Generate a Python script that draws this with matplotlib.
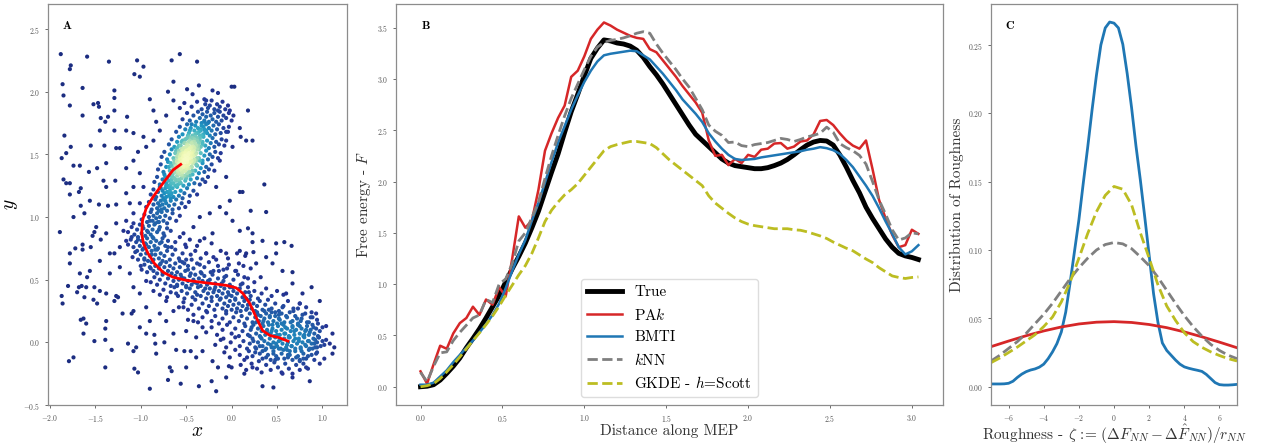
import numpy as np
import matplotlib
matplotlib.use("Agg")
import matplotlib.pyplot as plt

plt.rcParams['font.family'] = 'cmr10'
plt.rcParams['mathtext.fontset'] = 'cm'
plt.rcParams['axes.formatter.use_mathtext'] = True

# ---------------- panel A : samples (x, y in hundredths) ----------------
sparse_pts = [
    (-188, 230), (-159, 228), (-177, 221), (-178, 218), (-186, 206), (-185, 197), (-164, 203), (-178, 189),
    (-152, 190), (-147, 191), (-146, 188), (-129, 201), (-129, 195), (-135, 224), (-104, 225), (-97, 220),
    (-107, 214), (-101, 212), (-66, 225), (-57, 230), (-38, 224), (-64, 208), (-70, 200), (-36, 205),
    (-49, 202), (-21, 201), (-15, 199), (0, 204), (3, 204), (-43, 198), (-90, 194), (-129, 185),
    (-164, 181), (-144, 179), (-136, 180), (-139, 176), (-115, 180), (-145, 169), (-129, 169), (-116, 169),
    (-184, 165), (-177, 156), (-182, 151), (-187, 147), (-174, 141), (-167, 141), (-148, 139), (-138, 143),
    (-155, 157), (-140, 157), (-127, 155), (-123, 155), (-185, 130), (-182, 127), (-178, 127), (-178, 118),
    (-168, 120), (-166, 123), (-157, 136), (-141, 129), (-128, 129), (-138, 124), (-174, 100), (-162, 103),
    (-166, 109), (-156, 113), (-146, 110), (-136, 109), (-127, 110), (-189, 88),
    (9, 120), (12, 120), (36, 126), (38, 104), (21, 105), (16, 161), (23, 161), (10, 164), (1, 156),
    (-4, 168), (18, 185), (-2, 185), (9, 171), (-13, 145), (-6, 132), (-17, 124), (-2, 113), (-6, 103),
    (1, 97), (9, 89), (23, 87), (18, 91), (-13, 108), (-24, 103), (-35, 100), (-42, 92), (-53, 87),
    (-21, 87), (23, 80), (34, 81), (49, 79), (58, 80), (66, 77), (45, 63), (56, 57), (67, 56), (88, 44),
    (78, 39), (93, 23), (104, 13), (111, 7), (113, -4), (102, -13), (86, -31), (67, -28), (56, -25),
    (46, -36), (34, -35), (23, -20), (14, -25), (0, -20), (-6, -28), (-15, -20), (-17, -39), (-22, -31),
    (-36, -35), (-50, -20), (-56, -33), (-70, -30), (-66, -23), (-68, -20), (-90, -37), (-103, -24),
    (-107, -21), (-108, -7), (-114, -1), (-94, 7), (-85, 6), (-84, -1), (-74, 0), (-61, -6), (-52, -7),
    (-45, -7), (-105, -4), (-110, 23), (-108, 25), (-120, 23), (-127, 37), (-125, 36), (-129, 33),
    (-138, 39), (-145, 41), (-148, 31), (-152, 34), (-170, 40), (-162, 36), (-180, 45), (-168, 44),
    (-165, 45), (-160, 44), (-159, 52), (-151, 44), (-187, 37), (-186, 31), (-163, 19), (-166, 18),
    (-160, 15), (-138, 17), (-139, 11), (-132, -6), (-139, 2), (-151, 1), (-163, 7), (-179, -15),
    (-174, -12), (-139, -20), (-178, 71), (-178, 63), (-172, 75), (-164, 78), (-164, 74), (-155, 76),
    (-153, 85), (-149, 92), (-151, 88), (-144, 82), (-138, 87), (-134, 71), (-145, 65), (-156, 57),
    (-167, 55), (-134, 55), (-123, 60), (-129, 71), (-123, 76), (-116, 81), (-119, 89), (-127, 95),
    (-116, 97), (-108, 103), (-112, 111), (-101, 111), (-116, 119), (-108, 124), (-97, 124), (-101, 135),
    (-116, 139), (-108, 145), (-103, 152), (-94, 156), (-86, 161), (-97, 164), (-108, 167), (-79, 169),
    (-83, 176), (-72, 181), (-86, 185), (-57, 187), (-64, 193), (-52, 191), (-28, 193),
    (9, 73), (-6, 71), (-35, 81), (-50, 76), (-28, 71), (-57, 65), (49, 71), (38, 68), (27, 63), (16, 71),
    (67, 47), (60, 39), (97, 33), (75, 31), (108, -1), (111, -9), (97, -17), (82, -20), (75, -15),
    (-101, 12), (-90, 17), (-79, 23), (-72, 17), (-64, 25), (-94, 28), (-101, 39), (-86, 41), (-108, 44),
    (-94, 49), (-112, 55), (-83, -9), (-64, 7), (-50, 9), (-39, 4), (-32, -7), (-21, -15), (-39, -12),
    (-53, 28), (-42, 17), (-32, 12), (-61, 39), (-72, 33), (-50, 44),
]

upper_pts = [
    (-44, 188), (-38, 192), (-33, 186), (-29, 190), (-26, 187), (-22, 193), (-19, 186), (-16, 190),
    (-13, 188), (-10, 192), (-7, 186), (-4, 189), (-30, 194), (-24, 189), (-15, 185),
    (-54, 178), (-49, 183), (-46, 177), (-42, 181), (-39, 176), (-37, 184), (-35, 179), (-32, 182),
    (-30, 177), (-28, 180), (-27, 184), (-25, 176), (-23, 181), (-21, 178), (-19, 183), (-17, 176),
    (-15, 180), (-13, 184), (-11, 177), (-9, 181), (-6, 179), (-3, 183), (0, 177), (2, 181), (-33, 175),
    (-61, 168), (-57, 172), (-54, 166), (-51, 170), (-49, 174), (-47, 167), (-45, 171), (-43, 165),
    (-41, 169), (-40, 173), (-38, 167), (-37, 171), (-35, 165), (-34, 169), (-33, 173), (-31, 166),
    (-30, 170), (-28, 174), (-27, 167), (-25, 171), (-24, 165), (-22, 169), (-20, 173), (-18, 166),
    (-16, 170), (-14, 174), (-12, 167), (-9, 171), (-6, 168), (-3, 172), (-44, 174), (-29, 168),
    (-69, 158), (-66, 162), (-63, 156), (-60, 160), (-58, 164), (-56, 157), (-54, 161), (-52, 155),
    (-51, 159), (-49, 163), (-48, 157), (-46, 161), (-45, 155), (-44, 159), (-43, 163), (-42, 156),
    (-41, 160), (-40, 164), (-39, 157), (-38, 161), (-37, 155), (-36, 159), (-35, 163), (-34, 156),
    (-32, 160), (-31, 164), (-29, 157), (-27, 161), (-25, 155), (-23, 159), (-21, 163), (-19, 156),
    (-17, 160), (-14, 158), (-11, 162), (-8, 157), (-6, 161), (-47, 164),
    (-77, 148), (-74, 152), (-71, 146), (-68, 150), (-66, 154), (-64, 147), (-62, 151), (-60, 145),
    (-59, 149), (-58, 153), (-57, 146), (-56, 150), (-55, 154), (-54, 147), (-53, 151), (-52, 145),
    (-51, 149), (-50, 153), (-49, 146), (-48, 150), (-47, 154), (-46, 147), (-45, 151), (-44, 145),
    (-43, 149), (-42, 153), (-41, 146), (-40, 150), (-38, 154), (-36, 147), (-34, 151), (-32, 145),
    (-30, 149), (-28, 153), (-26, 146), (-24, 150), (-21, 148), (-18, 152), (-15, 147), (-12, 151),
    (-61, 153), (-39, 145),
    (-81, 138), (-78, 142), (-75, 136), (-72, 140), (-70, 144), (-68, 137), (-66, 141), (-65, 135),
    (-64, 139), (-63, 143), (-62, 136), (-61, 140), (-60, 144), (-59, 137), (-58, 141), (-57, 135),
    (-56, 139), (-55, 143), (-54, 136), (-53, 140), (-52, 144), (-51, 137), (-50, 141), (-49, 135),
    (-48, 139), (-47, 143), (-46, 136), (-44, 140), (-42, 144), (-40, 137), (-38, 141), (-36, 135),
    (-34, 139), (-32, 143), (-30, 136), (-28, 140), (-25, 138), (-22, 142), (-19, 137), (-67, 143),
    (-85, 128), (-82, 132), (-79, 126), (-76, 130), (-74, 134), (-72, 127), (-71, 131), (-70, 125),
    (-69, 129), (-68, 133), (-67, 126), (-66, 130), (-65, 134), (-64, 127), (-63, 131), (-62, 125),
    (-61, 129), (-60, 133), (-59, 126), (-58, 130), (-57, 134), (-56, 127), (-55, 131), (-53, 125),
    (-51, 129), (-49, 133), (-47, 126), (-45, 130), (-43, 134), (-41, 127), (-38, 131), (-35, 126),
    (-32, 130), (-29, 128), (-26, 132), (-73, 132),
    (-89, 118), (-86, 122), (-83, 116), (-81, 120), (-79, 124), (-77, 117), (-76, 121), (-75, 115),
    (-74, 119), (-73, 123), (-72, 116), (-71, 120), (-70, 124), (-69, 117), (-68, 121), (-67, 115),
    (-66, 119), (-65, 123), (-64, 116), (-62, 120), (-60, 124), (-58, 117), (-56, 121), (-54, 115),
    (-52, 119), (-49, 123), (-46, 117), (-42, 121), (-38, 118), (-78, 123),
    (-94, 108), (-91, 112), (-88, 106), (-86, 110), (-84, 114), (-82, 107), (-81, 111), (-80, 105),
    (-79, 109), (-78, 113), (-77, 106), (-76, 110), (-75, 114), (-74, 107), (-72, 111), (-71, 105),
    (-69, 109), (-67, 113), (-65, 106), (-63, 110), (-61, 114), (-58, 107), (-55, 111), (-51, 108),
    (-47, 112),
    (-99, 98), (-96, 102), (-93, 96), (-91, 100), (-89, 104), (-87, 97), (-86, 101), (-84, 95),
    (-83, 99), (-82, 103), (-80, 96), (-79, 100), (-77, 104), (-75, 97), (-73, 101), (-71, 95),
    (-68, 99), (-65, 103), (-61, 97), (-57, 101),
]

upper_core_pts = [
    (-52, 146), (-48, 142), (-55, 150), (-45, 148), (-50, 139), (-57, 143), (-43, 152), (-53, 155),
    (-47, 136), (-60, 148), (-41, 145), (-49, 158), (-56, 138), (-44, 140), (-51, 151), (-58, 157),
    (-39, 151), (-46, 155), (-54, 133), (-61, 141), (-42, 160), (-48, 147), (-53, 141), (-37, 157),
    (-59, 135), (-45, 163), (-50, 131), (-63, 145), (-40, 166), (-55, 160), (-47, 151), (-52, 137),
    (-44, 156), (-58, 151), (-35, 161), (-62, 130), (-49, 144), (-38, 147), (-56, 146), (-43, 137),
    (-64, 136), (-51, 162), (-46, 133), (-36, 168), (-60, 155), (-41, 155), (-54, 144), (-48, 165),
    (-57, 128), (-39, 142), (-66, 127), (-33, 165), (-50, 156), (-45, 144), (-53, 149), (-42, 149),
    (-47, 160), (-59, 139), (-55, 134), (-38, 163), (-65, 132), (-34, 170), (-52, 159), (-44, 151),
    (-61, 151), (-40, 158), (-49, 140), (-57, 148), (-46, 169), (-68, 124), (-31, 172), (-50, 146),
    (-43, 143), (-54, 153), (-58, 143), (-36, 154), (-63, 138), (-47, 139), (-41, 162), (-52, 133),
    (-70, 120), (-67, 118), (-72, 125), (-30, 176), (-28, 169), (-26, 175), (-73, 113), (-32, 158),
    (-69, 140), (-35, 145),
]

lower_pts = [
    (-114, 88), (-110, 92), (-107, 86), (-104, 90), (-101, 94), (-99, 87), (-97, 91), (-95, 85),
    (-93, 89), (-91, 93), (-89, 86), (-87, 90), (-85, 94), (-82, 88), (-79, 92), (-75, 87), (-71, 91),
    (-67, 89),
    (-114, 78), (-111, 82), (-108, 76), (-105, 80), (-103, 84), (-101, 77), (-99, 81), (-97, 75),
    (-95, 79), (-93, 83), (-91, 76), (-89, 80), (-87, 84), (-85, 77), (-83, 81), (-81, 75), (-79, 79),
    (-76, 83), (-73, 77), (-70, 81), (-66, 76), (-62, 80), (-57, 84), (-51, 78), (-46, 82), (-38, 77),
    (-30, 83), (-22, 79),
    (-109, 68), (-106, 72), (-103, 66), (-100, 70), (-98, 74), (-96, 67), (-94, 71), (-92, 65),
    (-90, 69), (-88, 73), (-86, 66), (-84, 70), (-82, 74), (-80, 67), (-78, 71), (-76, 65), (-74, 69),
    (-71, 73), (-68, 66), (-65, 70), (-62, 74), (-58, 67), (-54, 71), (-50, 66), (-45, 70), (-40, 73),
    (-34, 67), (-28, 71), (-20, 68), (-12, 73), (-4, 67), (6, 71), (15, 69), (24, 72),
    (-99, 58), (-96, 62), (-93, 56), (-90, 60), (-88, 64), (-86, 57), (-84, 61), (-82, 55), (-80, 59),
    (-78, 63), (-76, 56), (-74, 60), (-72, 64), (-70, 57), (-68, 61), (-66, 55), (-64, 59), (-62, 63),
    (-60, 56), (-57, 60), (-54, 64), (-51, 57), (-48, 61), (-45, 55), (-42, 59), (-38, 63), (-34, 56),
    (-30, 60), (-25, 64), (-20, 57), (-15, 61), (-9, 58), (-3, 62), (5, 57), (13, 61), (21, 59),
    (-89, 48), (-85, 52), (-82, 46), (-79, 50), (-76, 54), (-73, 47), (-70, 51), (-67, 45), (-64, 49),
    (-62, 53), (-60, 46), (-58, 50), (-56, 54), (-54, 47), (-52, 51), (-50, 45), (-48, 49), (-46, 53),
    (-44, 46), (-42, 50), (-40, 54), (-38, 47), (-36, 51), (-34, 45), (-32, 49), (-30, 53), (-27, 46),
    (-24, 50), (-21, 54), (-18, 47), (-15, 51), (-12, 45), (-9, 49), (-6, 53), (-2, 46), (2, 50),
    (7, 54), (12, 47), (18, 51), (25, 48), (32, 52),
    (-79, 38), (-75, 42), (-71, 36), (-67, 40), (-63, 44), (-59, 37), (-55, 41), (-52, 35), (-49, 39),
    (-46, 43), (-43, 36), (-40, 40), (-37, 44), (-34, 37), (-31, 41), (-28, 35), (-26, 39), (-24, 43),
    (-22, 36), (-20, 40), (-18, 44), (-16, 37), (-14, 41), (-12, 35), (-10, 39), (-8, 43), (-6, 36),
    (-4, 40), (-2, 44), (0, 37), (2, 41), (4, 35), (6, 39), (9, 43), (12, 36), (15, 40), (18, 44),
    (21, 37), (25, 41), (29, 35), (33, 39), (38, 43), (44, 37), (50, 41), (57, 38),
    (-58, 28), (-53, 32), (-48, 26), (-44, 30), (-40, 34), (-36, 27), (-32, 31), (-28, 25), (-25, 29),
    (-22, 33), (-19, 26), (-16, 30), (-13, 34), (-10, 27), (-8, 31), (-6, 25), (-4, 29), (-2, 33),
    (0, 26), (2, 30), (4, 34), (6, 27), (8, 31), (10, 25), (12, 29), (14, 33), (16, 26), (18, 30),
    (20, 34), (22, 27), (24, 31), (26, 25), (28, 29), (31, 33), (34, 26), (37, 30), (40, 34), (44, 27),
    (48, 31), (52, 25), (57, 29), (62, 33), (68, 27), (75, 31), (82, 28),
    (-48, 18), (-42, 22), (-37, 16), (-32, 20), (-27, 24), (-22, 17), (-18, 21), (-14, 15), (-10, 19),
    (-6, 23), (-2, 16), (2, 20), (5, 24), (8, 17), (11, 21), (14, 15), (17, 19), (20, 23), (23, 16),
    (26, 20), (28, 24), (30, 17), (32, 21), (34, 15), (36, 19), (38, 23), (40, 16), (42, 20), (44, 24),
    (46, 17), (48, 21), (50, 15), (52, 19), (55, 23), (58, 16), (61, 20), (64, 24), (67, 17), (70, 21),
    (73, 15), (77, 19), (81, 23), (85, 16), (89, 20), (94, 18),
    (-28, 8), (-22, 12), (-16, 6), (-10, 10), (-5, 14), (0, 7), (4, 11), (8, 5), (12, 9), (15, 13),
    (18, 6), (21, 10), (24, 14), (27, 7), (29, 11), (31, 5), (33, 9), (35, 13), (37, 6), (39, 10),
    (41, 14), (43, 7), (45, 11), (47, 5), (49, 9), (51, 13), (53, 6), (55, 10), (57, 14), (59, 7),
    (61, 11), (63, 5), (65, 9), (67, 13), (69, 6), (71, 10), (73, 14), (75, 7), (77, 11), (79, 5),
    (81, 9), (83, 13), (85, 6), (87, 10), (89, 14), (91, 7), (93, 11), (95, 5), (97, 9), (100, 12),
    (-18, -2), (-12, 2), (-6, -4), (-1, 0), (4, 4), (9, -3), (13, 1), (17, -5), (20, -1), (23, 3),
    (26, -4), (29, 0), (32, 4), (34, -3), (36, 1), (38, -5), (40, -1), (42, 3), (44, -4), (46, 0),
    (48, 4), (50, -3), (52, 1), (54, -5), (56, -1), (58, 3), (60, -4), (62, 0), (64, 4), (66, -3),
    (68, 1), (70, -5), (72, -1), (74, 3), (76, -4), (78, 0), (80, 4), (82, -3), (84, 1), (86, -5),
    (88, -1), (90, 3), (92, -4), (94, 0), (96, 4), (98, -3), (100, 1), (102, -2), (104, 2), (-9, 3),
    (-8, -8), (-2, -12), (4, -6), (9, -10), (14, -14), (19, -7), (23, -11), (27, -5), (31, -9),
    (34, -13), (37, -6), (40, -10), (43, -14), (46, -7), (49, -11), (52, -5), (55, -9), (58, -13),
    (61, -6), (64, -10), (67, -14), (70, -7), (73, -11), (76, -5), (79, -9), (82, -13), (85, -6),
    (88, -10), (91, -14), (94, -8), (30, -15), (48, -14), (62, -12), (75, -14), (17, -12),
    (10, -18), (16, -22), (22, -17), (28, -21), (33, -24), (38, -18), (43, -22), (47, -16), (51, -20),
    (55, -24), (59, -17), (63, -21), (67, -25), (71, -18), (75, -22), (79, -17), (84, -21), (-3, -19),
]

extra_pts = [
    (17, 27), (22, 12), (26, -8), (29, 22), (33, 3), (35, 17), (38, -12), (39, 8), (41, 26), (43, -2),
    (45, 14), (46, -9), (48, 24), (50, 6), (51, -13), (53, 18), (54, 2), (56, 28), (57, -6), (59, 12),
    (60, 21), (62, -10), (63, 4), (65, 16), (66, -3), (68, 25), (69, 9), (71, -12), (72, 19), (74, 1),
    (75, 13), (77, -7), (78, 22), (80, 6), (81, -2), (83, 16), (84, -11), (86, 8), (87, 20), (89, -5),
    (90, 12), (92, 2), (93, -9), (95, 15), (96, 4), (24, 1), (31, -3), (36, 25), (44, 9), (47, -4),
    (52, 22), (58, 7), (64, -7), (67, 12), (73, 27), (79, -13), (85, 1), (88, 24), (91, -1), (20, 5),
    (27, 16), (34, -7), (42, 21), (49, -1), (55, 15), (61, -2), (70, 3), (76, 17), (82, 10), (94, -4),
    (-55, 52), (-48, 58), (-41, 48), (-35, 62), (-29, 43), (-23, 56), (-17, 66), (-11, 47), (-5, 59),
    (1, 44), (8, 63), (14, 52), (19, 40), (-44, 66), (-38, 38), (-26, 49), (-14, 57), (-3, 38),
    (10, 46), (-60, 45), (-52, 63), (-33, 55), (-19, 42), (-8, 52), (4, 57), (16, 35),
    (-108, 95), (-103, 82), (-98, 93), (-94, 78), (-90, 97), (-86, 83), (-81, 96), (-77, 80),
    (-96, 66), (-88, 70), (-79, 62), (-104, 73), (-92, 88), (-84, 74), (-74, 85), (-100, 61),
    (-110, 84), (-70, 76), (-89, 59), (-80, 90),
]

mep_x = [-0.56, -0.645, -0.755, -0.865, -0.94, -0.98, -0.99, -0.97, -0.92, -0.85, -0.755, -0.645,
         -0.50, -0.28, -0.06, 0.05, 0.125, 0.20, 0.27, 0.34, 0.42, 0.51, 0.62]
mep_y = [1.42, 1.375, 1.27, 1.16, 1.07, 0.975, 0.87, 0.79, 0.71, 0.63, 0.56, 0.52,
         0.495, 0.475, 0.455, 0.435, 0.39, 0.31, 0.20, 0.095, 0.055, 0.04, 0.01]

# ---------------- panel B : free energy along the MEP ----------------
dist = [0.00, 0.04, 0.08, 0.12, 0.16, 0.20, 0.24, 0.28, 0.32, 0.36,
        0.40, 0.44, 0.48, 0.52, 0.56, 0.60, 0.64, 0.68, 0.72, 0.76,
        0.80, 0.84, 0.88, 0.92, 0.96, 1.00, 1.04, 1.08, 1.12, 1.16,
        1.20, 1.24, 1.28, 1.32, 1.36, 1.40, 1.44, 1.48, 1.52, 1.56,
        1.60, 1.64, 1.68, 1.72, 1.76, 1.80, 1.84, 1.88, 1.92, 1.96,
        2.00, 2.04, 2.08, 2.12, 2.16, 2.20, 2.24, 2.28, 2.32, 2.36,
        2.40, 2.44, 2.48, 2.52, 2.56, 2.60, 2.64, 2.68, 2.72, 2.76,
        2.80, 2.84, 2.88, 2.92, 2.96, 3.00, 3.04]
f_true = [0.00, 0.005, 0.02, 0.065, 0.13, 0.20, 0.28, 0.38, 0.47, 0.565,
          0.67, 0.78, 0.89, 1.02, 1.15, 1.27, 1.40, 1.55, 1.71, 1.90,
          2.09, 2.27, 2.48, 2.68, 2.85, 3.03, 3.20, 3.30, 3.38, 3.37,
          3.35, 3.34, 3.32, 3.28, 3.21, 3.12, 3.04, 2.95, 2.85, 2.75,
          2.65, 2.55, 2.46, 2.40, 2.34, 2.28, 2.22, 2.18, 2.155, 2.145,
          2.135, 2.125, 2.125, 2.135, 2.155, 2.18, 2.215, 2.26, 2.31, 2.355,
          2.385, 2.40, 2.395, 2.355, 2.26, 2.14, 2.01, 1.89, 1.75, 1.64,
          1.54, 1.44, 1.36, 1.30, 1.275, 1.26, 1.24]
f_pak = [0.15, 0.03, 0.22, 0.40, 0.37, 0.52, 0.62, 0.67, 0.78, 0.70,
         0.85, 0.80, 0.97, 0.88, 1.25, 1.66, 1.55, 1.62, 1.92, 2.30,
         2.47, 2.62, 2.74, 3.02, 3.08, 3.22, 3.39, 3.48, 3.55, 3.52,
         3.48, 3.45, 3.42, 3.40, 3.39, 3.29, 3.26, 3.18, 3.10, 3.02,
         2.93, 2.85, 2.77, 2.67, 2.40, 2.25, 2.26, 2.16, 2.22, 2.18,
         2.26, 2.24, 2.31, 2.32, 2.37, 2.375, 2.32, 2.34, 2.39, 2.40,
         2.46, 2.59, 2.60, 2.55, 2.47, 2.40, 2.35, 2.32, 2.40, 2.12,
         1.82, 1.64, 1.48, 1.36, 1.38, 1.53, 1.49]
f_bmti = [0.02, 0.02, 0.04, 0.10, 0.16, 0.24, 0.31, 0.38, 0.45, 0.53,
          0.61, 0.70, 0.81, 0.96, 1.13, 1.29, 1.43, 1.62, 1.79, 1.99,
          2.19, 2.38, 2.54, 2.70, 2.84, 2.97, 3.08, 3.17, 3.23, 3.245,
          3.255, 3.265, 3.275, 3.27, 3.23, 3.19, 3.12, 3.05, 2.97, 2.89,
          2.80, 2.73, 2.66, 2.58, 2.47, 2.39, 2.32, 2.26, 2.22, 2.21,
          2.215, 2.22, 2.235, 2.245, 2.255, 2.265, 2.275, 2.285, 2.295, 2.31,
          2.32, 2.335, 2.325, 2.305, 2.27, 2.21, 2.14, 2.05, 1.96, 1.86,
          1.74, 1.61, 1.49, 1.36, 1.29, 1.32, 1.38]
f_knn = [0.14, 0.05, 0.20, 0.33, 0.34, 0.45, 0.53, 0.60, 0.67, 0.70,
         0.85, 0.82, 1.00, 1.05, 1.20, 1.42, 1.50, 1.65, 1.80, 2.03,
         2.25, 2.45, 2.64, 2.81, 2.95, 3.09, 3.22, 3.31, 3.355, 3.375,
         3.385, 3.40, 3.42, 3.445, 3.46, 3.445, 3.34, 3.25, 3.17, 3.09,
         3.00, 2.92, 2.81, 2.70, 2.55, 2.49, 2.45, 2.38, 2.385, 2.35,
         2.34, 2.36, 2.37, 2.38, 2.40, 2.42, 2.41, 2.39, 2.41, 2.435,
         2.45, 2.47, 2.53, 2.48, 2.37, 2.33, 2.30, 2.255, 2.17, 2.00,
         1.82, 1.68, 1.53, 1.43, 1.45, 1.50, 1.49]
f_gkde = [0.00, 0.01, 0.03, 0.08, 0.145, 0.215, 0.29, 0.37, 0.45, 0.525,
          0.605, 0.69, 0.785, 0.89, 0.99, 1.09, 1.18, 1.30, 1.45, 1.61,
          1.72, 1.80, 1.87, 1.92, 1.98, 2.06, 2.14, 2.22, 2.30, 2.34,
          2.36, 2.375, 2.39, 2.39, 2.38, 2.37, 2.33, 2.27, 2.21, 2.16,
          2.11, 2.06, 2.01, 1.96, 1.86, 1.79, 1.74, 1.69, 1.645, 1.61,
          1.585, 1.57, 1.56, 1.55, 1.54, 1.54, 1.54, 1.53, 1.525, 1.51,
          1.49, 1.47, 1.445, 1.41, 1.38, 1.35, 1.325, 1.285, 1.245, 1.21,
          1.16, 1.12, 1.08, 1.065, 1.055, 1.065, 1.07]

# ---------------- panel C : roughness distributions ----------------
zeta_fine = [-7.00, -6.75, -6.50, -6.25, -6.00, -5.75, -5.50, -5.25, -5.00, -4.75,
             -4.50, -4.25, -4.00, -3.75, -3.50, -3.25, -3.00, -2.75, -2.50, -2.25,
             -2.00, -1.75, -1.50, -1.25, -1.00, -0.75, -0.50, -0.25, 0.00, 0.25,
             0.50, 0.75, 1.00, 1.25, 1.50, 1.75, 2.00, 2.25, 2.50, 2.75,
             3.00, 3.25, 3.50, 3.75, 4.00, 4.25, 4.50, 4.75, 5.00, 5.25,
             5.50, 5.75, 6.00, 6.25, 6.50, 6.75, 7.00]
rough_bmti = [0.0020, 0.0020, 0.0020, 0.0021, 0.0025, 0.0040, 0.0068, 0.0092, 0.0110, 0.0122,
              0.0130, 0.0143, 0.0165, 0.0205, 0.0255, 0.0315, 0.0400, 0.0545, 0.0760, 0.0990,
              0.1220, 0.1490, 0.1750, 0.2025, 0.2280, 0.2500, 0.2625, 0.2668, 0.2660, 0.2625,
              0.2505, 0.2290, 0.2040, 0.1760, 0.1510, 0.1240, 0.0960, 0.0680, 0.0470, 0.0320,
              0.0265, 0.0230, 0.0195, 0.0165, 0.0145, 0.0135, 0.0127, 0.0120, 0.0112, 0.0090,
              0.0060, 0.0030, 0.0015, 0.0012, 0.0012, 0.0014, 0.0017]
zeta_mid = [-7.0, -6.5, -6.0, -5.5, -5.0, -4.5, -4.0, -3.5, -3.0, -2.5,
            -2.0, -1.5, -1.0, -0.5, 0.0, 0.5, 1.0, 1.5, 2.0, 2.5,
            3.0, 3.5, 4.0, 4.5, 5.0, 5.5, 6.0, 6.5, 7.0]
rough_knn = [0.0188, 0.023, 0.028, 0.033, 0.039, 0.046, 0.053, 0.061, 0.070, 0.079,
             0.087, 0.094, 0.100, 0.104, 0.1055, 0.1045, 0.101, 0.095, 0.0885, 0.080,
             0.0705, 0.061, 0.052, 0.044, 0.037, 0.031, 0.0265, 0.023, 0.0205]
rough_gkde = [0.0176, 0.021, 0.025, 0.029, 0.0335, 0.038, 0.044, 0.051, 0.062, 0.0765,
              0.094, 0.112, 0.128, 0.140, 0.1465, 0.1445, 0.133, 0.1125, 0.094, 0.0745,
              0.059, 0.0485, 0.0395, 0.033, 0.0288, 0.0255, 0.0228, 0.0205, 0.0188]
zeta_coarse = [-7, -6, -5, -4, -3, -2, -1, 0, 1, 2, 3, 4, 5, 6, 7]
rough_pak = [0.0293, 0.0334, 0.0373, 0.0408, 0.0437, 0.0459, 0.0472, 0.0476, 0.0470, 0.0455,
             0.0432, 0.0401, 0.0365, 0.0326, 0.0285]

C_RED, C_BLUE, C_GRAY, C_OLIVE = '#d62728', '#1f77b4', '#7f7f7f', '#bcbd22'


def style(ax):
    for s in ax.spines.values():
        s.set_color('#8c8c8c')
        s.set_linewidth(0.9)
    ax.tick_params(labelsize=5.5, colors='#555555', length=2.5, width=0.6, pad=3)


fig = plt.figure(figsize=(12.61, 4.44), dpi=100)

# panel A
axA = fig.add_axes([0.0381, 0.0878, 0.2371, 0.9032])
pts = np.array(sparse_pts + upper_pts + upper_core_pts + lower_pts + extra_pts) / 100.0
px, py = pts[:, 0], pts[:, 1]
d2 = (px[:, None] - px[None, :]) ** 2 + (py[:, None] - py[None, :]) ** 2
dens = np.exp(-d2 / (2 * 0.11 ** 2)).sum(axis=1)
dens = (dens / dens.max()) ** 1.7
order = np.argsort(dens)
axA.scatter(px[order], py[order], c=dens[order], cmap='YlGnBu_r', vmin=-0.1, vmax=1.08,
            s=9, linewidths=0)
axA.plot(mep_x, mep_y, color='red', lw=2)
axA.set_xlim(-2.02, 1.27)
axA.set_ylim(-0.5, 2.7)
axA.set_xticks([-2.0, -1.5, -1.0, -0.5, 0.0, 0.5, 1.0])
axA.set_yticks([-0.5, 0.0, 0.5, 1.0, 1.5, 2.0, 2.5])
axA.set_xlabel('$x$', fontsize=14, labelpad=-1)
axA.set_ylabel('$y$', fontsize=14, labelpad=2)
axA.text(0.047, 0.945, 'A', transform=axA.transAxes, family='cmb10', fontsize=8.5, va='center')
style(axA)

# panel B
axB = fig.add_axes([0.3140, 0.0878, 0.4338, 0.9032])
axB.plot(dist, f_true, color='black', lw=3.5, label='True')
axB.plot(dist, f_pak, color=C_RED, lw=1.8, label='PA$k$')
axB.plot(dist, f_bmti, color=C_BLUE, lw=1.8, label='BMTI')
axB.plot(dist, f_knn, color=C_GRAY, lw=2, ls='--', label='$k$NN')
axB.plot(dist, f_gkde, color=C_OLIVE, lw=2, ls='--', label='GKDE - $h$=Scott')
axB.set_xlim(-0.15, 3.19)
axB.set_ylim(-0.178, 3.73)
axB.set_xticks([0.0, 0.5, 1.0, 1.5, 2.0, 2.5, 3.0])
axB.set_yticks([0.0, 0.5, 1.0, 1.5, 2.0, 2.5, 3.0, 3.5])
axB.set_xlabel('Distance along MEP', fontsize=11, labelpad=0, color='#333333')
axB.set_ylabel('Free energy - $F$', fontsize=11, labelpad=3, color='#333333')
axB.text(0.047, 0.945, 'B', transform=axB.transAxes, family='cmb10', fontsize=8.5, va='center')
axB.legend(loc='lower center', fontsize=11, handlelength=2.3, labelspacing=0.5,
           framealpha=1, edgecolor='#dddddd')
style(axB)

# panel C
axC = fig.add_axes([0.7859, 0.0878, 0.1951, 0.9032])
axC.plot(zeta_fine, rough_bmti, color=C_BLUE, lw=2)
axC.plot(zeta_coarse, rough_pak, color=C_RED, lw=2)
axC.plot(zeta_mid, rough_knn, color=C_GRAY, lw=2, ls='--')
axC.plot(zeta_mid, rough_gkde, color=C_OLIVE, lw=2, ls='--')
axC.set_xlim(-7, 7)
axC.set_ylim(-0.0134, 0.28)
axC.set_xticks([-6, -4, -2, 0, 2, 4, 6])
axC.set_yticks([0.0, 0.05, 0.10, 0.15, 0.20, 0.25])
axC.set_xlabel(r'Roughness - $\zeta$ := $(\Delta F_{NN} - \Delta\hat{F}_{NN})/r_{NN}$',
               fontsize=11, labelpad=0, color='#333333')
axC.set_ylabel('Distribution of Roughness', fontsize=11, labelpad=3, color='#333333')
axC.text(0.057, 0.945, 'C', transform=axC.transAxes, family='cmb10', fontsize=8.5, va='center')
style(axC)

fig.savefig('out.png', dpi=100)
